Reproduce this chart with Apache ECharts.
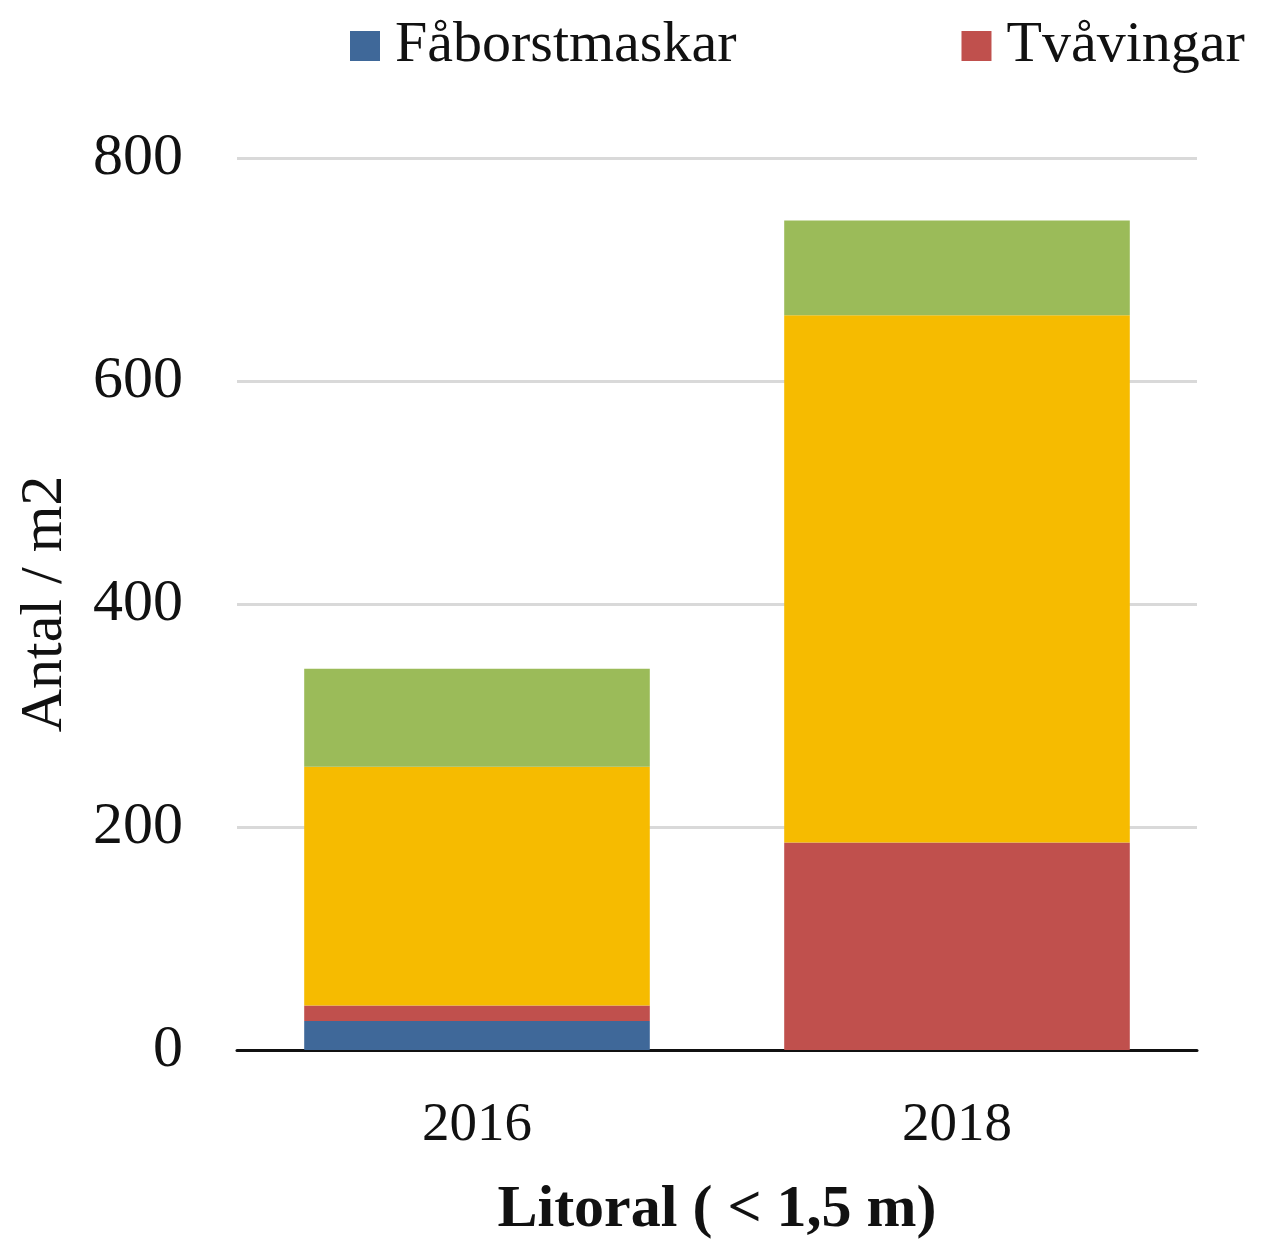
<!DOCTYPE html>
<html lang="sv">
<head>
  <meta charset="UTF-8">
  <title>Litoral</title>
  <style>
    html, body { margin: 0; padding: 0; background: #fff; }
  </style>
</head>
<body>
  <div class="wrapper" style="width:1262px;height:1241px;"></div>

  <script src="https://cdn.jsdelivr.net/npm/echarts@6/dist/echarts.min.js"></script>
  <script>
    const years = ['2016', '2018']
    const faborstmaskar = [26, 0]
    const tvavingar = [14, 186]
    const gulGrupp = [214, 473]
    const gronGrupp = [88, 85]
    const yTicks = [0, 200, 400, 600, 800]

    const font = '"Liberation Serif", "Times New Roman", serif'
    const chart = echarts.init(document.querySelector('.wrapper'))

    function stackBar(name, data, color) {
      return {
        name: name,
        type: 'bar',
        stack: 'total',
        data: data,
        barWidth: '72%',
        itemStyle: { color: color },
        emphasis: { disabled: true }
      }
    }

    const option = {
      animation: false,
      textStyle: { fontFamily: font },
      legend: {
        // bara två av grupperna står i förklaringen
        data: ['Fåborstmaskar', 'Tvåvingar'],
        left: 345,
        top: 12,
        itemWidth: 30,
        itemHeight: 30,
        itemGap: 225,
        icon: 'rect',
        textStyle: { fontFamily: font, fontSize: 58, color: '#111', padding: [0, 0, 0, 10] }
      },
      grid: {
        left: 237,
        right: 65,
        top: 158,
        bottom: 191,
        outerBoundsMode: 'none'
      },
      xAxis: {
        type: 'category',
        data: years,
        name: 'Litoral ( < 1,5 m)',
        nameLocation: 'middle',
        nameGap: 130,
        nameTextStyle: { fontFamily: font, fontSize: 60, fontWeight: 'bold', color: '#111' },
        axisLine: { lineStyle: { color: '#111', width: 3 } },
        axisTick: { show: false },
        axisLabel: { fontFamily: font, fontSize: 55, color: '#111', margin: 48 }
      },
      yAxis: {
        type: 'value',
        min: yTicks[0],
        max: yTicks[yTicks.length - 1],
        interval: 200,
        name: 'Antal / m2',
        nameLocation: 'middle',
        nameGap: 162,
        nameRotate: 90,
        nameTextStyle: { fontFamily: font, fontSize: 60, color: '#111' },
        axisLine: { show: false },
        axisTick: { show: false },
        splitLine: { lineStyle: { color: '#d9d9d9', width: 3 } },
        axisLabel: { fontFamily: font, fontSize: 60, color: '#111', margin: 54 }
      },
      series: [
        stackBar('Fåborstmaskar', faborstmaskar, '#3f6899'),
        stackBar('Tvåvingar', tvavingar, '#c0504d'),
        stackBar('Grupp 3', gulGrupp, '#f6bb00'),
        stackBar('Grupp 4', gronGrupp, '#9bbb59')
      ]
    }

    chart.setOption(option)
  </script>
</body>
</html>
